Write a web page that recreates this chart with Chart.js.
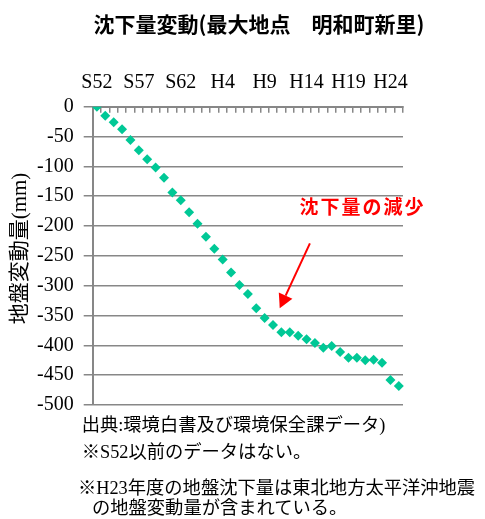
<!DOCTYPE html>
<html lang="ja">
<head>
<meta charset="utf-8">
<script src="https://cdn.jsdelivr.net/npm/chart.js@4.4.1/dist/chart.umd.min.js"></script>
<style>
  html, body { margin: 0; padding: 0; background: #fff; }
  #wrap { position: relative; width: 485px; height: 519px; overflow: hidden; }
  #c { position: absolute; left: 0; top: 0; }
  .t { position: absolute; white-space: nowrap; color: #000; }
  #title { font: bold 21px "Noto Sans CJK JP", sans-serif; line-height: 21px; top: 12.5px; left: 259px; transform: translateX(-50%); }
  .note { font-size: 18.3px; line-height: 18.3px; font-family: "Liberation Serif", "Noto Sans CJK JP", serif; }
</style>
</head>
<body>
<div id="wrap">
  <canvas id="c" width="485" height="519"></canvas>
  <div id="title" class="t">沈下量変動(最大地点　明和町新里)</div>
  <div class="t note" style="left:81.7px; top:416px;">出典:環境白書及び環境保全課データ)</div>
  <div class="t note" style="left:81.7px; top:442.5px;">※S52以前のデータはない。</div>
  <div class="t note" style="left:78px; top:479px;">※H23年度の地盤沈下量は東北地方太平洋沖地震</div>
  <div class="t note" style="left:92px; top:499px;">の地盤変動量が含まれている。</div>
</div>
<script>
// ---- data ----
const categories = ['S52','S53','S54','S55','S56','S57','S58','S59','S60','S61','S62','S63',
  'H1','H2','H3','H4','H5','H6','H7','H8','H9','H10','H11','H12','H13','H14','H15','H16',
  'H17','H18','H19','H20','H21','H22','H23','H24','H25'];
const subsidence = [0,-15,-26,-38,-56,-73,-88,-102,-119,-144,-157,-177,-196,-218,-238,-256,
  -278,-299,-314,-338,-354,-366,-378,-378,-384,-390,-396,-404,-401,-411,-421,-421,-425,-424,
  -429,-458,-468];
const xTickLabels = ['S52','S57','S62','H4','H9','H14','H19','H24'];
const yMin = -500, yMax = 0, yStep = 50;
const yTitle = '地盤変動量(mm)';
const noteText = '沈下量の減少';
const notePos = [31.67, -168];     // data units (category index, mm)
const arrowFrom = [25.4, -229];
const arrowTo = [21.8, -338];

const GRAY = '#878787';
const GREEN = '#00C896';
const RED = '#FF0000';

const overlay = {
  id: 'overlay',
  afterDraw(chart) {
    const ctx = chart.ctx, xs = chart.scales.x, ys = chart.scales.y;
    ctx.save();
    // y-axis title
    ctx.fillStyle = '#000';
    ctx.font = '21px "Liberation Serif", "Noto Sans CJK JP"';
    ctx.textAlign = 'center';
    ctx.textBaseline = 'middle';
    ctx.translate(20, 248.5);
    ctx.rotate(-Math.PI / 2);
    ctx.fillText(yTitle, 0, 0);
    ctx.restore();

    // annotation text
    ctx.save();
    ctx.fillStyle = RED;
    ctx.font = 'bold 19px "Noto Sans CJK JP"';
    try { ctx.letterSpacing = '2px'; } catch (e) {}
    ctx.textAlign = 'center';
    ctx.textBaseline = 'middle';
    ctx.fillText(noteText, xs.getPixelForValue(notePos[0]), ys.getPixelForValue(notePos[1]));
    ctx.restore();

    // arrow
    const x1 = xs.getPixelForValue(arrowFrom[0]), y1 = ys.getPixelForValue(arrowFrom[1]);
    const x2 = xs.getPixelForValue(arrowTo[0]), y2 = ys.getPixelForValue(arrowTo[1]);
    const ang = Math.atan2(y2 - y1, x2 - x1);
    const hl = 14, hw = 7.5;
    const bx = x2 - hl * Math.cos(ang), by = y2 - hl * Math.sin(ang);
    ctx.save();
    ctx.strokeStyle = RED; ctx.fillStyle = RED; ctx.lineWidth = 2;
    ctx.beginPath(); ctx.moveTo(x1, y1); ctx.lineTo(bx, by); ctx.stroke();
    ctx.beginPath();
    ctx.moveTo(x2, y2);
    ctx.lineTo(bx + hw * Math.sin(ang), by - hw * Math.cos(ang));
    ctx.lineTo(bx - hw * Math.sin(ang), by + hw * Math.cos(ang));
    ctx.closePath(); ctx.fill();
    ctx.restore();
  }
};

new Chart(document.getElementById('c'), {
  type: 'line',
  data: {
    labels: categories,
    datasets: [{
      data: subsidence,
      showLine: false,
      pointStyle: 'rectRot',
      pointRadius: 5,
      pointHoverRadius: 5,
      pointBackgroundColor: GREEN,
      pointBorderWidth: 0,
      borderColor: GREEN,
      backgroundColor: GREEN
    }]
  },
  options: {
    responsive: false,
    animation: false,
    events: [],
    layout: { padding: { left: 0, top: 0, right: 82, bottom: 114 } },
    plugins: { legend: { display: false }, title: { display: false }, tooltip: { enabled: false } },
    scales: {
      x: {
        type: 'category',
        position: 'top',
        offset: true,
        grid: { display: true, offset: true, drawOnChartArea: false, drawTicks: true, tickLength: -6, color: GRAY, lineWidth: 1.5 },
        border: { display: true, color: GRAY, width: 2 },
        ticks: {
          autoSkip: false, maxRotation: 0, minRotation: 0, padding: 18,
          color: '#000', font: { family: '"Liberation Serif"', size: 20 },
          callback: function (v) { const l = this.getLabelForValue(v); return xTickLabels.includes(l) ? l : ''; }
        },
        afterFit(s) { s.height = 106.7; }
      },
      y: {
        min: yMin, max: yMax,
        grid: { color: GRAY, lineWidth: 1.5, tickLength: 9, drawTicks: true },
        border: { display: true, color: GRAY, width: 2 },
        ticks: { stepSize: yStep, padding: 10, color: '#000', font: { family: '"Liberation Serif"', size: 20 } },
        afterFit(s) { s.width = 92.7; }
      }
    }
  },
  plugins: [overlay]
});
</script>
</body>
</html>
